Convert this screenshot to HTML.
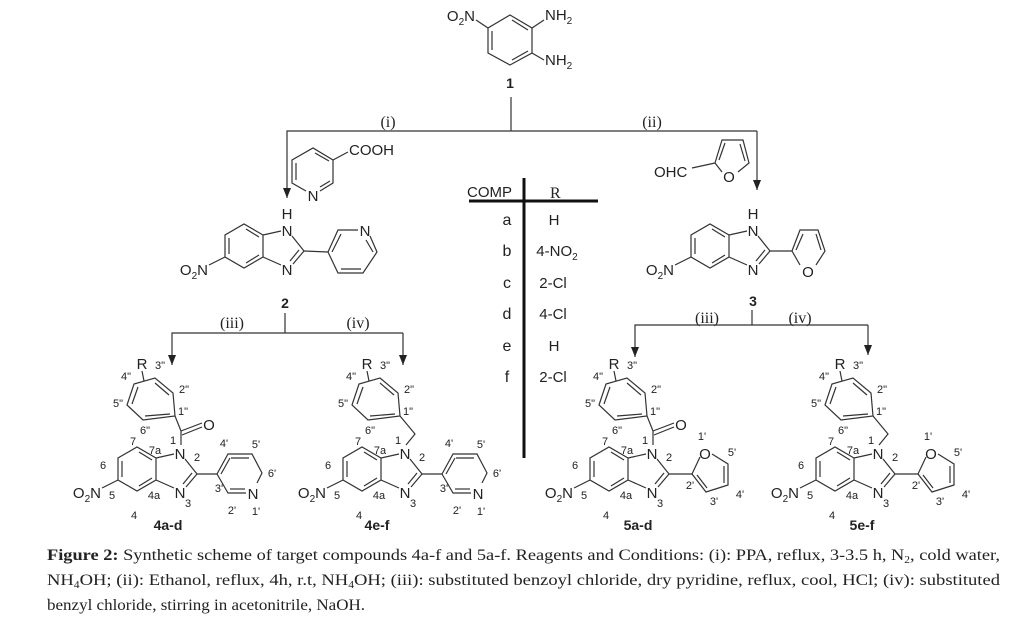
<!DOCTYPE html>
<html><head><meta charset="utf-8"><style>
html,body{margin:0;padding:0;background:#fff;}
svg{display:block;}
text{font-family:"Liberation Sans",sans-serif;fill:#222;}
.a{font-size:15px;}
.n{font-size:11px;}
.s{font-family:"Liberation Serif",serif;font-size:16px;}
.b{font-weight:bold;font-size:14px;}
</style></head><body>
<svg width="1010" height="627" viewBox="0 0 1010 627" xmlns="http://www.w3.org/2000/svg">
<defs>
<marker id="ar" markerWidth="10" markerHeight="8" refX="10" refY="4" orient="auto" markerUnits="userSpaceOnUse" viewBox="0 0 10 8">
<path d="M0,0 L10,4 L0,8 Z" fill="#222"/></marker>
<g id="bim" stroke="#333" stroke-width="1.2" fill="none">
<polyline points="-24,5 -43,-6 -62,5 -62,27 -43,38 -24,27 -24,5"/>
<line x1="-58" y1="8" x2="-58" y2="24"/><line x1="-41" y1="-1" x2="-28" y2="7"/><line x1="-41" y1="33" x2="-28" y2="25"/>
<line x1="-24" y1="5" x2="-6" y2="1"/><line x1="-24" y1="27" x2="-6" y2="35"/>
<line x1="5" y1="6" x2="17" y2="21"/><line x1="17" y1="21" x2="6" y2="34"/><line x1="12" y1="20" x2="3" y2="31"/>
<line x1="-62" y1="27" x2="-78" y2="35"/>
<text x="0" y="6" class="a" text-anchor="middle" stroke="none">N</text>
<text x="0" y="45" class="a" text-anchor="middle" stroke="none">N</text>
<text x="-79" y="45" class="a" text-anchor="end" stroke="none">O<tspan font-size="10" dy="4">2</tspan><tspan dy="-4">N</tspan></text>
</g>
<g id="num" class="n" text-anchor="middle">
<text x="-7" y="-9">1</text><text x="-47" y="-8">7</text><text x="-25" y="1">7a</text><text x="-77" y="16">6</text>
<text x="17" y="8">2</text><text x="8" y="54">3</text><text x="-68" y="46">5</text><text x="-26" y="46">4a</text><text x="-46" y="66">4</text>
</g>
<g id="pyr" stroke="#333" stroke-width="1.2" fill="none">
<line x1="17" y1="21" x2="37" y2="21"/>
<polyline points="37,21 48,1 72,1 82,20 77,30"/>
<polyline points="37,21 48,40 66,40"/>
<line x1="51" y1="5" x2="69" y2="5"/><line x1="50" y1="36" x2="65" y2="36"/><line x1="41" y1="21" x2="50" y2="5"/>
<text x="73" y="46" class="a" text-anchor="middle" stroke="none">N</text>
</g>
<g id="pyrn" class="n" text-anchor="middle">
<text x="39" y="39">3'</text><text x="44" y="-6">4'</text><text x="76" y="-5">5'</text><text x="92" y="24">6'</text><text x="52" y="61">2'</text><text x="76" y="62">1'</text>
</g>
<g id="fur" stroke="#333" stroke-width="1.2" fill="none">
<line x1="17" y1="21" x2="40" y2="21"/>
<polyline points="48,4 40,21 54,39 76,32 76,11 60,1"/>
<line x1="45" y1="22" x2="55" y2="35"/><line x1="72" y1="13" x2="72" y2="30"/>
<text x="53" y="6" class="a" text-anchor="middle" stroke="none">O</text>
</g>
<g id="furn" class="n" text-anchor="middle">
<text x="50" y="-13">1'</text><text x="80" y="3">5'</text><text x="88" y="45">4'</text><text x="62" y="52">3'</text><text x="38" y="36">2'</text>
</g>
<g id="ring" stroke="#333" stroke-width="1.2" fill="none">
<polygon points="-5,-37 -7,-60 -25,-75 -46,-69 -53,-48 -37,-33"/>
<line x1="-11" y1="-58" x2="-25" y2="-70"/><line x1="-48" y1="-49" x2="-42" y2="-66"/><line x1="-35" y1="-37" x2="-10" y2="-39"/>
<line x1="-36" y1="-72" x2="-38" y2="-82"/>
<text x="-38" y="-84" class="a" text-anchor="middle" stroke="none">R</text>
</g>
<g id="ringn" class="n" text-anchor="middle">
<text x="-35" y="-19">6"</text><text x="3" y="-38">1"</text><text x="-62" y="-46">5"</text><text x="4" y="-60">2"</text><text x="-54" y="-73">4"</text><text x="-20" y="-84">3"</text>
</g>
<g id="co" stroke="#333" stroke-width="1.2" fill="none">
<line x1="1" y1="-8" x2="1" y2="-22"/><line x1="1" y1="-22" x2="-5" y2="-37"/>
<line x1="1" y1="-22" x2="22" y2="-30"/><line x1="2" y1="-18" x2="22" y2="-26"/>
<text x="29" y="-23" class="a" text-anchor="middle" stroke="none">O</text>
</g>
<g id="ch2" stroke="#333" stroke-width="1.2" fill="none">
<polyline points="1,-8 10,-19 -5,-37"/>
</g>
</defs>

<!-- compound 1 -->
<g stroke="#333" stroke-width="1.2" fill="none">
<polygon points="510,15 532,28 532,53 510,65 488,53 488,28"/>
<line x1="492" y1="31" x2="492" y2="50"/><line x1="512" y1="60" x2="528" y2="51"/><line x1="512" y1="20" x2="528" y2="30"/>
<line x1="488" y1="28" x2="476" y2="20"/><line x1="532" y1="28" x2="544" y2="20"/><line x1="532" y1="53" x2="544" y2="60"/>
<line x1="511" y1="97" x2="511" y2="131"/>
<polyline points="757,131 287,131 287,198" marker-end="url(#ar)"/>
<line x1="757" y1="131" x2="757" y2="190" marker-end="url(#ar)"/>
</g>
<text x="475" y="21" class="a" text-anchor="end">O<tspan font-size="10" dy="4">2</tspan><tspan dy="-4">N</tspan></text>
<text x="545" y="20" class="a">NH<tspan font-size="10" dy="4">2</tspan></text>
<text x="545" y="65" class="a">NH<tspan font-size="10" dy="4">2</tspan></text>
<text x="510" y="88" class="b" text-anchor="middle">1</text>
<text x="388" y="127" class="s" text-anchor="middle">(i)</text>
<text x="652" y="127" class="s" text-anchor="middle">(ii)</text>

<!-- nicotinic acid -->
<g stroke="#333" stroke-width="1.2" fill="none">
<polyline points="306,191 292,183 292,160 313,148 333,160 333,183 320,191"/>
<line x1="296" y1="163" x2="296" y2="180"/><line x1="315" y1="153" x2="329" y2="161"/><line x1="330" y1="181" x2="320" y2="187"/>
<line x1="333" y1="160" x2="348" y2="152"/>
</g>
<text x="313" y="201" class="a" text-anchor="middle">N</text>
<text x="349" y="155" class="a">COOH</text>

<!-- compound 2 -->
<use href="#bim" x="287" y="230"/>
<text x="287" y="219" class="a" text-anchor="middle">H</text>
<g stroke="#333" stroke-width="1.2" fill="none">
<line x1="304" y1="251" x2="328" y2="252"/>
<polyline points="328,252 338,230 358,230"/>
<polyline points="370,236 377,252 363,273 338,273 328,252"/>
<line x1="332" y1="252" x2="341" y2="234"/><line x1="341" y1="269" x2="361" y2="269"/><line x1="373" y1="252" x2="366" y2="240"/>
<line x1="285" y1="313" x2="285" y2="333"/>
<polyline points="403,333 172,333 172,365" marker-end="url(#ar)"/>
<line x1="403" y1="333" x2="403" y2="365" marker-end="url(#ar)"/>
</g>
<text x="365" y="236" class="a" text-anchor="middle">N</text>
<text x="285" y="308" class="b" text-anchor="middle">2</text>
<text x="232" y="328" class="s" text-anchor="middle">(iii)</text>
<text x="358" y="328" class="s" text-anchor="middle">(iv)</text>

<!-- furfural -->
<g stroke="#333" stroke-width="1.2" fill="none">
<polyline points="722,172 715,163 722,140 743,140 749,163 738,172"/>
<line x1="719" y1="160" x2="725" y2="143"/><line x1="740" y1="144" x2="745" y2="161"/>
<line x1="715" y1="163" x2="692" y2="168"/>
</g>
<text x="729" y="182" class="a" text-anchor="middle">O</text>
<text x="654" y="177" class="a">OHC</text>

<!-- compound 3 -->
<use href="#bim" x="753" y="230"/>
<text x="753" y="219" class="a" text-anchor="middle">H</text>
<g stroke="#333" stroke-width="1.2" fill="none">
<line x1="770" y1="251" x2="792" y2="251"/>
<polyline points="800,265 792,251 800,230 818,230 825,251 816,265"/>
<line x1="796" y1="250" x2="803" y2="234"/><line x1="816" y1="234" x2="821" y2="250"/>
<line x1="752" y1="310" x2="752" y2="325"/>
<polyline points="868,325 635,325 635,357" marker-end="url(#ar)"/>
<line x1="868" y1="325" x2="868" y2="355" marker-end="url(#ar)"/>
</g>
<text x="808" y="277" class="a" text-anchor="middle">O</text>
<text x="753" y="306" class="b" text-anchor="middle">3</text>
<text x="707" y="323" class="s" text-anchor="middle">(iii)</text>
<text x="800" y="323" class="s" text-anchor="middle">(iv)</text>

<!-- table -->
<text x="467" y="197" class="a">COMP</text>
<text x="550" y="198" class="s">R</text>
<line x1="469" y1="201" x2="598" y2="201" stroke="#111" stroke-width="3"/>
<line x1="524" y1="178" x2="524" y2="458" stroke="#111" stroke-width="3"/>
<g class="s" text-anchor="middle">
<text x="507" y="225">a</text><text x="507" y="256">b</text><text x="507" y="288">c</text>
<text x="507" y="319">d</text><text x="507" y="351">e</text><text x="507" y="382">f</text>
</g>
<g class="a" text-anchor="middle">
<text x="554" y="225">H</text><text x="557" y="256">4-NO<tspan font-size="10" dy="4">2</tspan></text><text x="553" y="288">2-Cl</text>
<text x="553" y="319">4-Cl</text><text x="554" y="351">H</text><text x="553" y="382">2-Cl</text>
</g>

<!-- products -->
<g transform="translate(180,453)">
<use href="#bim"/><use href="#num"/><use href="#pyr"/><use href="#pyrn"/><use href="#ring"/><use href="#ringn"/><use href="#co"/>
</g>
<g transform="translate(405,453)">
<use href="#bim"/><use href="#num"/><use href="#pyr"/><use href="#pyrn"/><use href="#ring"/><use href="#ringn"/><use href="#ch2"/>
</g>
<g transform="translate(652,453)">
<use href="#bim"/><use href="#num"/><use href="#fur"/><use href="#furn"/><use href="#ring"/><use href="#ringn"/><use href="#co"/>
</g>
<g transform="translate(878,453)">
<use href="#bim"/><use href="#num"/><use href="#fur"/><use href="#furn"/><use href="#ring"/><use href="#ringn"/><use href="#ch2"/>
</g>
<text x="168" y="530" class="b" text-anchor="middle">4a-d</text>
<text x="377" y="530" class="b" text-anchor="middle">4e-f</text>
<text x="638" y="530" class="b" text-anchor="middle">5a-d</text>
<text x="862" y="530" class="b" text-anchor="middle">5e-f</text>

<!-- caption -->
<text x="47" y="560" class="s" textLength="953" lengthAdjust="spacingAndGlyphs"><tspan font-weight="bold">Figure 2:</tspan> Synthetic scheme of target compounds 4a-f and 5a-f. Reagents and Conditions: (i): PPA, reflux, 3-3.5 h, N<tspan font-size="10" dy="3">2</tspan><tspan dy="-3">, cold water,</tspan></text>
<text x="47" y="585" class="s" textLength="953" lengthAdjust="spacingAndGlyphs">NH<tspan font-size="10" dy="3">4</tspan><tspan dy="-3">OH; (ii): Ethanol, reflux, 4h, r.t, NH</tspan><tspan font-size="10" dy="3">4</tspan><tspan dy="-3">OH; (iii): substituted benzoyl chloride, dry pyridine, reflux, cool, HCl; (iv): substituted</tspan></text>
<text x="47" y="610" class="s" textLength="318" lengthAdjust="spacingAndGlyphs">benzyl chloride, stirring in acetonitrile, NaOH.</text>
</svg>
</body></html>
